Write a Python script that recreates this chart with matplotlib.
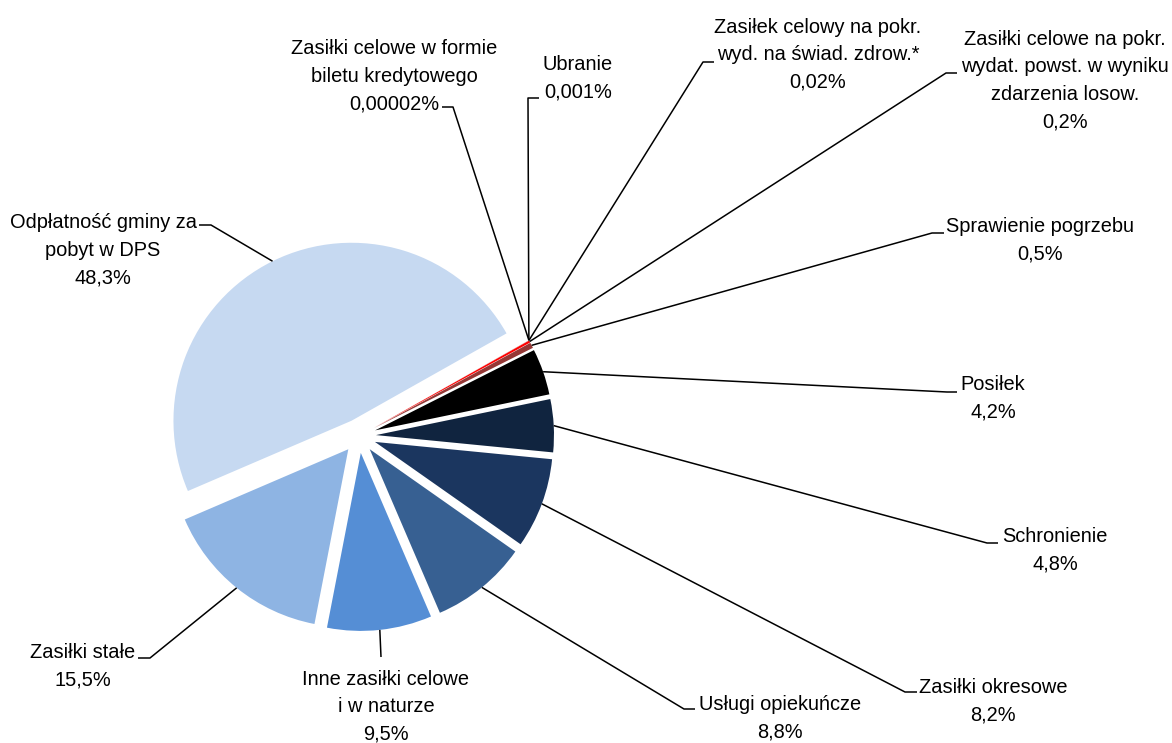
import numpy as np
import matplotlib
matplotlib.use('Agg')
import matplotlib.pyplot as plt

plt.rcParams['font.family'] = ['Liberation Sans Narrow', 'Liberation Sans', 'DejaVu Sans']
plt.rcParams['font.size'] = 14.4

W, H = 1172, 743

# struktura wydatków (%)
categories = ['Odpłatność gminy za\npobyt w DPS',
              'Zasiłki stałe',
              'Inne zasiłki celowe\ni w naturze',
              'Usługi opiekuńcze',
              'Zasiłki okresowe',
              'Schronienie',
              'Posiłek',
              'Sprawienie pogrzebu',
              'Zasiłki celowe na pokr.\nwydat. powst. w wyniku\nzdarzenia losow.',
              'Zasiłek celowy na pokr.\nwyd. na świad. zdrow.*',
              'Ubranie',
              'Zasiłki celowe w formie\nbiletu kredytowego']
shares = [48.3, 15.5, 9.5, 8.8, 8.2, 4.8, 4.2, 0.5, 0.2, 0.02, 0.001, 0.00002]
colors = ['#C6D9F1', '#8EB4E3', '#558ED5', '#376092', '#1B365F', '#10243F',
          '#000000', '#953735', '#FF0000', '#C0504D', '#E6B9B8', '#F2DCDB']

# label layout in pixels (y counted from the top edge)
label_x = [103, 83, 386, 780, 993, 1055, 993, 1040, 1065, 818, 578, 394]
label_y = [228, 658, 685, 710, 693, 542, 390, 232, 45, 33, 70, 54]
elbows = [(211, 225), (150, 658), (381, 657), (684, 709), (905, 692), (987, 543),
          (947, 392), (932, 233), (946, 73), (703, 62), (528, 98), (453, 107)]
tails = [(199, 225), (138, 658), None, (695, 709), (917, 692), (998, 543),
         (957, 392), (944, 233), (957, 73), (714, 62), (539, 98), (442, 107)]
line_gap = 27.5


def pct(v):
    return np.format_float_positional(v, trim='-').replace('.', ',') + '%'


fig = plt.figure(figsize=(W / 100, H / 100), dpi=100)
ax = fig.add_axes([0, 0, 1, 1])

wedges, _ = ax.pie(shares, colors=colors, startangle=29.4, counterclock=True,
                   radius=178, center=(359, H - 436), explode=[17] * len(shares),
                   wedgeprops=dict(linewidth=0))

for i, w in enumerate(wedges):
    # leader line from the outer edge of the wedge
    mid = np.deg2rad((w.theta1 + w.theta2) / 2)
    sx = w.center[0] + w.r * np.cos(mid)
    sy = w.center[1] + w.r * np.sin(mid)
    xs = [sx, elbows[i][0]]
    ys = [sy, H - elbows[i][1]]
    if tails[i] is not None:
        xs.append(tails[i][0])
        ys.append(H - tails[i][1])
    ax.plot(xs, ys, color='black', lw=1.1, solid_capstyle='butt')

    lines = categories[i].split('\n') + [pct(shares[i])]
    for k, txt in enumerate(lines):
        ax.text(label_x[i], H - (label_y[i] + k * line_gap), txt,
                ha='center', va='baseline', color='#000000')

ax.set_xlim(0, W)
ax.set_ylim(0, H)
ax.set_aspect('equal')
ax.axis('off')

fig.savefig('out.png', dpi=100, facecolor='white')
